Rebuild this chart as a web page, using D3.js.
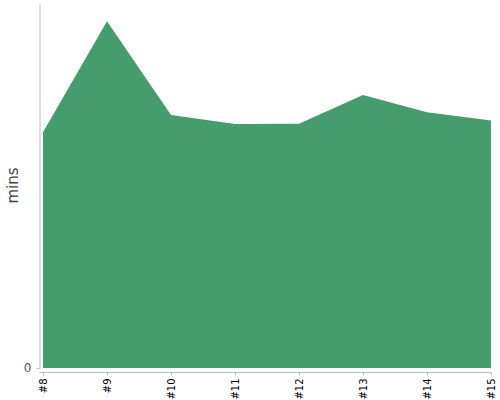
<!DOCTYPE html>
<html>
<head>
<meta charset="utf-8">
<script src="https://cdn.jsdelivr.net/npm/d3@7/dist/d3.min.js"></script>
<style>
  html, body { margin: 0; padding: 0; background: #fff; }
  svg { display: block; font-family: "DejaVu Sans", sans-serif; }
</style>
</head>
<body>
<svg id="chart" width="500" height="400"></svg>
<script>
const categories = ["#8", "#9", "#10", "#11", "#12", "#13", "#14", "#15"];
const minutes = [25.9, 38.1, 27.8, 26.8, 26.85, 30.0, 28.1, 27.2];
const yTicks = [0];
const yLabel = "mins";

const svg = d3.select("#chart");
const x = d3.scalePoint().domain(categories).range([43, 491]);
const y = d3.scaleLinear().domain([0, 40]).range([368, 4]);

const data = categories.map((c, i) => ({ c, v: minutes[i] }));

svg.append("path")
  .datum(data)
  .attr("fill", "#459c6d")
  .attr("d", d3.area().x(d => x(d.c)).y0(y(0)).y1(d => y(d.v)));

// y axis
const ya = svg.append("g").attr("transform", "translate(39.5,0)")
  .call(d3.axisLeft(y).tickValues(yTicks).tickSize(3).tickSizeOuter(0).tickPadding(5));
ya.select(".domain").attr("stroke", "#bbb");
ya.selectAll(".tick line").attr("stroke", "#bbb");
ya.selectAll(".tick text").attr("font-size", 12).attr("fill", "#555")
  .attr("font-family", "DejaVu Sans, sans-serif");

// x axis
const xa = svg.append("g").attr("transform", "translate(0,372.5)")
  .call(d3.axisBottom(x).tickSize(3).tickSizeOuter(0));
xa.select(".domain").remove();
xa.append("line").attr("x1", 39.5).attr("x2", 491).attr("y1", 0).attr("y2", 0).attr("stroke", "#bbb");
xa.selectAll(".tick line").attr("stroke", "#bbb");
xa.selectAll(".tick text")
  .attr("font-size", 10).attr("fill", "#000")
  .attr("font-family", "DejaVu Sans, sans-serif")
  .attr("transform", "rotate(-90)")
  .attr("text-anchor", "end")
  .attr("x", -6).attr("y", 0).attr("dy", "0.35em");

svg.append("text")
  .attr("transform", "translate(17.5,185.5) rotate(-90)")
  .attr("text-anchor", "middle")
  .attr("font-size", 15)
  .attr("fill", "#444")
  .text(yLabel);
</script>
</body>
</html>
